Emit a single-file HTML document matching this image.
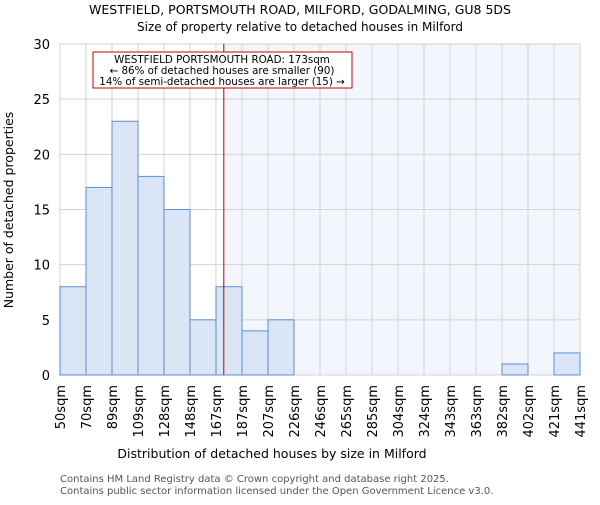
<!DOCTYPE html>
<html><head><meta charset="utf-8"><style>
body{margin:0;background:#fff;font-family:"Liberation Sans","DejaVu Sans",sans-serif}
svg text{font-family:"DejaVu Sans","Liberation Sans",sans-serif}
</style></head><body>
<svg id="c" width="600" height="500">
<text x="300" y="14" text-anchor="middle" font-size="12.5">WESTFIELD, PORTSMOUTH ROAD, MILFORD, GODALMING, GU8 5DS</text>
<text x="300" y="31" text-anchor="middle" font-size="12">Size of property relative to detached houses in Milford</text>
<g id="plot"></g>
<text x="272" y="458" text-anchor="middle" font-size="12.5">Distribution of detached houses by size in Milford</text>
<text transform="translate(13,210) rotate(-90)" text-anchor="middle" font-size="12.5">Number of detached properties</text>
<text x="60" y="482" font-size="10" fill="#555">Contains HM Land Registry data © Crown copyright and database right 2025.</text>
<text x="60" y="494" font-size="10" fill="#555">Contains public sector information licensed under the Open Government Licence v3.0.</text>
</svg>
<script>
const edgeLabels=["50sqm","70sqm","89sqm","109sqm","128sqm","148sqm","167sqm","187sqm","207sqm","226sqm","246sqm","265sqm","285sqm","304sqm","324sqm","343sqm","363sqm","382sqm","402sqm","421sqm","441sqm"];
const counts=[8,17,23,18,15,5,8,4,5,0,0,0,0,0,0,0,0,1,0,2];
const yTicks=[0,5,10,15,20,25,30];
const markerValue=173;
const edgeValues=[50,70,89,109,128,148,167,187,207,226,246,265,285,304,324,343,363,382,402,421,441];
const NS="http://www.w3.org/2000/svg";
const L=60,R=580,T=44,B=375,yMax=30;
const bw=(R-L)/counts.length;
const y=v=>B-(v/yMax)*(B-T);
const xe=i=>L+i*bw;
function xv(v){for(let i=0;i<edgeValues.length-1;i++){if(v<=edgeValues[i+1]){return xe(i)+bw*(v-edgeValues[i])/(edgeValues[i+1]-edgeValues[i]);}}return R;}
const g=document.getElementById('plot');
function mk(t,a){const e=document.createElementNS(NS,t);for(const k in a)e.setAttribute(k,a[k]);g.appendChild(e);return e;}
const mx=xv(markerValue);
let e=mk('rect',{x:mx,y:T,width:R-mx,height:B-T,fill:'#f3f6fd'});


for(let i=0;i<=counts.length;i++){e=mk('line',{x1:xe(i),x2:xe(i),y1:T,y2:B,stroke:'#d3d3d3'});

}
yTicks.forEach(t=>{e=mk('line',{x1:L,x2:R,y1:y(t),y2:y(t),stroke:'#d3d3d3'});


e=mk('text',{x:L-10,y:y(t)+5,'text-anchor':'end','font-size':13});e.textContent=t;

});
counts.forEach((c,i)=>{if(!c)return;e=mk('rect',{x:xe(i),y:y(c),width:bw,height:B-y(c),fill:'#dae5f5',stroke:'#5b8fd4','stroke-width':1});

});
edgeLabels.forEach((s,i)=>{e=mk('text',{transform:`translate(${xe(i)+5},385) rotate(-90)`,'text-anchor':'end','font-size':13});e.textContent=s;

});
e=mk('line',{x1:mx,x2:mx,y1:T,y2:B,stroke:'#b00','stroke-width':1});


e=mk('rect',{x:93,y:52,width:259,height:36,fill:'#fff',stroke:'#c00','stroke-width':1});


["WESTFIELD PORTSMOUTH ROAD: 173sqm","← 86% of detached houses are smaller (90)","14% of semi-detached houses are larger (15) →"].forEach((s,i)=>{e=mk('text',{x:222,y:63+i*11,'text-anchor':'middle','font-size':10.3});e.textContent=s;

});
</script>
</body></html>
